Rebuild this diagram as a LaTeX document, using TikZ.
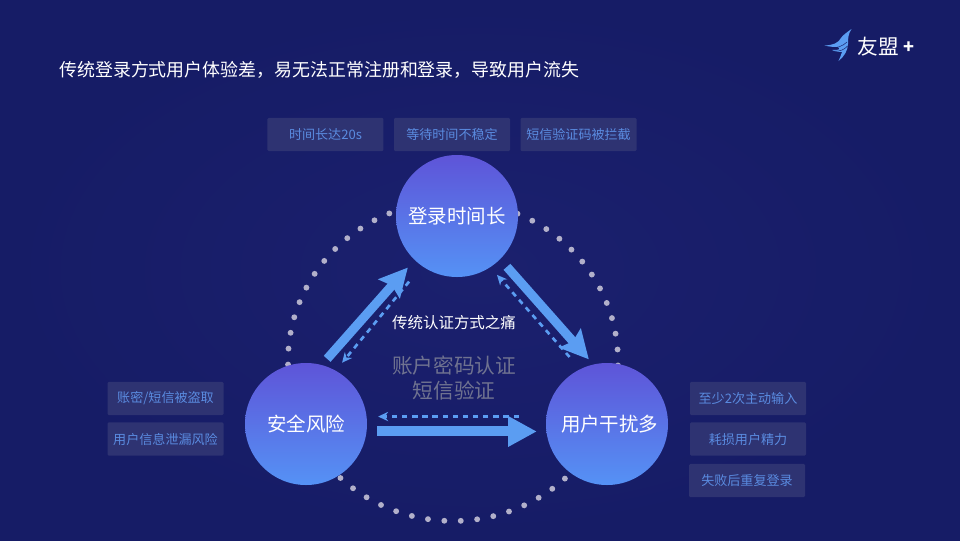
\documentclass[tikz,border=0pt]{standalone}
\usepackage{fontspec}
\setmainfont{Noto Sans CJK SC}
\usetikzlibrary{arrows.meta, positioning, calc}
\definecolor{bgmid}{HTML}{1B206E}
\definecolor{bgedge}{HTML}{161C66}
\definecolor{tagfill}{HTML}{2E3372}
\definecolor{tagtext}{HTML}{5A8BE0}
\definecolor{arrowblue}{HTML}{5B9DF2}
\definecolor{dotgray}{HTML}{B2B0CA}
\definecolor{balltop}{HTML}{5E54D8}
\definecolor{ballbot}{HTML}{5592F5}
\definecolor{midgray}{HTML}{6F7290}

\begin{document}
\begin{tikzpicture}[
  x=.75pt, y=-.75pt,
  ball/.style    = {circle, minimum size=91.5pt, inner sep=0pt, text=white,
                    top color=balltop, bottom color=ballbot, font=\fontsize{14.6pt}{16pt}\selectfont},
  tag/.style     = {fill=tagfill, rounded corners=1pt, minimum width=87pt, minimum height=25pt,
                    inner sep=0pt, text=tagtext, font=\fontsize{9.8pt}{11pt}\selectfont},
  bigarrow/.style  = {draw=arrowblue, line width=6.8pt,
                      -{Stealth[length=21pt, width=21pt, inset=3pt]}},
  flatarrow/.style = {draw=arrowblue, line width=7.5pt,
                      -{Triangle[length=21.5pt, width=21.5pt]}},
  backarrow/.style = {draw=arrowblue, line width=2pt, dash pattern=on 4pt off 3.6pt,
                      -{Stealth[length=7.5pt, width=7pt]}},
  node distance = 5pt and 7.5pt
]
\shade[inner color=bgmid, outer color=bgedge] (0,0) rectangle (960,540);

\foreach \n in {0,...,62}
  \fill[dotgray] ({453+165*cos(272.7+\n*5.7143)},{361-160*sin(272.7+\n*5.7143)}) circle (2.2pt);

\node[ball] (login) at (457,216) {登录时间长};
\node[ball] (safe)  at (306,424) {安全风险};
\node[ball] (user)  at (607,424) {\hspace*{4pt}用户干扰多};

\node[tag] (wait) at (452,134.5) {等待时间不稳定};
\node[tag, left=of wait]  (time) {时间长达20s};
\node[tag, right=of wait] (sms)  {短信验证码被拦截};

\node[tag] (steal) at (165.5,398.5) {账密/短信被盗取};
\node[tag, below=of steal] (leak) {用户信息泄漏风险};

\node[tag] (input) at (748,398.5) {至少2次主动输入};
\node[tag, below=of input] (tire)  {耗损用户精力};
\node[tag, below=5.75pt of tire, xshift=-.75pt] (retry) {失败后重复登录};

\draw[bigarrow, shorten <=6pt, shorten >=7.5pt] (safe.75) -- (login.226);
\draw[bigarrow, shorten <=7.5pt, shorten >=5pt] (login.315) -- (user.103.5);
\draw[flatarrow, shorten <=8pt, shorten >=7pt] (safe.-7.5) -- (user.187.5);

\draw[backarrow, shorten <=15pt, shorten >=7.5pt] (login.235) -- (safe.61);
\draw[backarrow, shorten <=12pt, shorten >=7.5pt] (user.116.5) -- (login.303);
\draw[backarrow, shorten <=20.5pt, shorten >=8.5pt] (user.173) -- (safe.7);

\node[text=white, inner sep=0pt, font=\fontsize{13.45pt}{16pt}\selectfont, anchor=west] (title) at (59,70)
  {传统登录方式用户体验差，易无法正常注册和登录，导致用户流失};
\node[text=white, font=\fontsize{11.6pt}{14pt}\selectfont] (pain) at (454,323) {传统认证方式之痛};
\node[text=midgray, align=center, font=\fontsize{15.5pt}{18.75pt}\selectfont] (way) at (454,378.5)
  {账户密码认证\\短信验证};

\fill[arrowblue] (851.5,29) .. controls (846,33) and (843,35) .. (841,38)
  .. controls (838,43) and (834,45) .. (824.5,45.5)
  .. controls (830,47) and (835,47) .. (838,47) .. controls (840,49) and (841,50) .. (832,50)
  .. controls (836,52) and (839,52) .. (842,52) .. controls (841,55) and (840,58) .. (838.5,61)
  .. controls (844,57) and (848,50) .. (848,44) .. controls (848,39) and (848,34) .. (851.5,29) -- cycle;
\draw[bgedge, line width=.35pt] (829,47.5) .. controls (836,49) and (843,46) .. (847,42);
\draw[bgedge, line width=.35pt] (834,51) .. controls (840,52) and (845,49) .. (847.5,46);
\node[text=white, font=\fontsize{15.5pt}{18pt}\selectfont] (brand) at (878,47) {友盟};
\node[text=white, font=\fontsize{13.5pt}{15pt}\selectfont\bfseries] (plus) at (909,47.5) {+};
\end{tikzpicture}
\end{document}
